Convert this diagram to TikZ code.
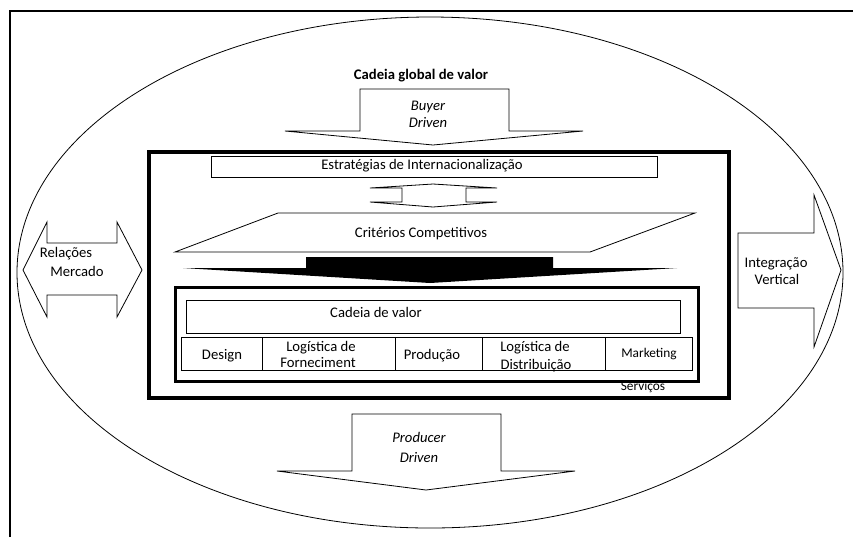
\documentclass[tikz,border=0pt]{standalone}
\usepackage{fontspec}
\setmainfont{Carlito}
\begin{document}
\begin{tikzpicture}[x=0.75pt,y=-0.75pt,
  ln/.style={line width=0.6pt},
  shp/.style={ln, draw=black, fill=white, line join=miter},
  txt/.style={inner sep=0pt, anchor=base, font=\fontsize{11}{13}\selectfont},
  itx/.style={txt, font=\fontsize{11}{13}\selectfont\itshape},
  stx/.style={txt, font=\fontsize{10}{12}\selectfont}]
\useasboundingbox (0,0) rectangle (853,537);
% outer frame (left and top edges)
\draw[line width=1.5pt] (9.5,537) -- (9.5,11) -- (853,11);
% big ellipse
\draw[ln] (430,272.5) ellipse [x radius=413, y radius=255.5];
% Buyer driven arrow
\draw[shp] (360,89) -- (509,89) -- (509,131) -- (583,131) -- (433,145) -- (285,131) -- (360,131) -- cycle;
% Producer driven arrow
\draw[shp] (352,414) -- (501,414) -- (501,471) -- (575,471) -- (426,490) -- (277,471) -- (352,471) -- cycle;
% Relacoes Mercado double arrow
\draw[shp] (23,270) -- (47,222) -- (47,243) -- (117,243) -- (117,222) -- (142,270) -- (117,317) -- (117,295) -- (47,295) -- (47,317) -- cycle;
% Integracao Vertical arrow
\draw[shp] (738,233) -- (814,233) -- (814,195) -- (841,270) -- (814,347) -- (814,308) -- (738,308) -- cycle;
% inner thick frame
\draw[line width=3pt] (148.5,151.5) rectangle (729,398);
% Estrategias box
\draw[shp] (211,156) rectangle (657,177);
% up-down arrow
\draw[shp] (433,184) -- (497,188) -- (466,188) -- (466,202) -- (497,202) -- (433,207) -- (370,202) -- (402,202) -- (402,188) -- (370,188) -- cycle;
% Criterios parallelogram
\draw[shp] (278,213) -- (695,213) -- (590,252) -- (175,252) -- cycle;
% black arrow
\fill[black] (306,257) -- (553,257) -- (553,268) -- (677,268) -- (430,283) -- (183,268) -- (306,268) -- cycle;
% value chain frame
\draw[line width=2.25pt] (175,287) rectangle (698,381);
\draw[shp] (186,300) rectangle (680,333);
% activities row
\draw[shp] (181,337) rectangle (692,370);
\draw[ln] (262,337) -- (262,370);
\draw[ln] (395,337) -- (395,370);
\draw[ln] (482,337) -- (482,370);
\draw[ln] (605,337) -- (605,370);
% texts
\node[txt, font=\fontsize{11}{13}\selectfont\bfseries] (gcv) at (421,79.5) {Cadeia global de valor};
\node[itx] (buy1) at (428,110.5) {Buyer};
\node[itx] (buy2) at (428,127.5) {Driven};
\node[txt] (estr) at (422,169.5) {Estratégias de Internacionalização};
\node[txt] (crit) at (421,237.5) {Critérios Competitivos};
\node[txt] (cv) at (376,317.5) {Cadeia de valor};
\node[txt] (des) at (222,359.5) {Design};
\node[txt] (lf1) at (321,351.5) {Logística de};
\node[txt] (lf2) at (318,367.5) {Forneciment};
\node[txt] (prod) at (432,359.5) {Produção};
\node[txt] (ld1) at (535,351.5) {Logística de};
\node[txt] (ld2) at (536,369.5) {Distribuição};
\node[stx] (mkt) at (649,357) {Marketing};
\node[stx] (serv) at (643,390) {Serviços};
\node[txt] (rel1) at (66,257.5) {Relações};
\node[txt] (rel2) at (77,276.5) {Mercado};
\node[txt] (int1) at (776,267.5) {Integração};
\node[txt] (int2) at (777,284.5) {Vertical};
\node[itx] (pro1) at (419,442.5) {Producer};
\node[itx] (pro2) at (419,462.5) {Driven};
\end{tikzpicture}
\end{document}
